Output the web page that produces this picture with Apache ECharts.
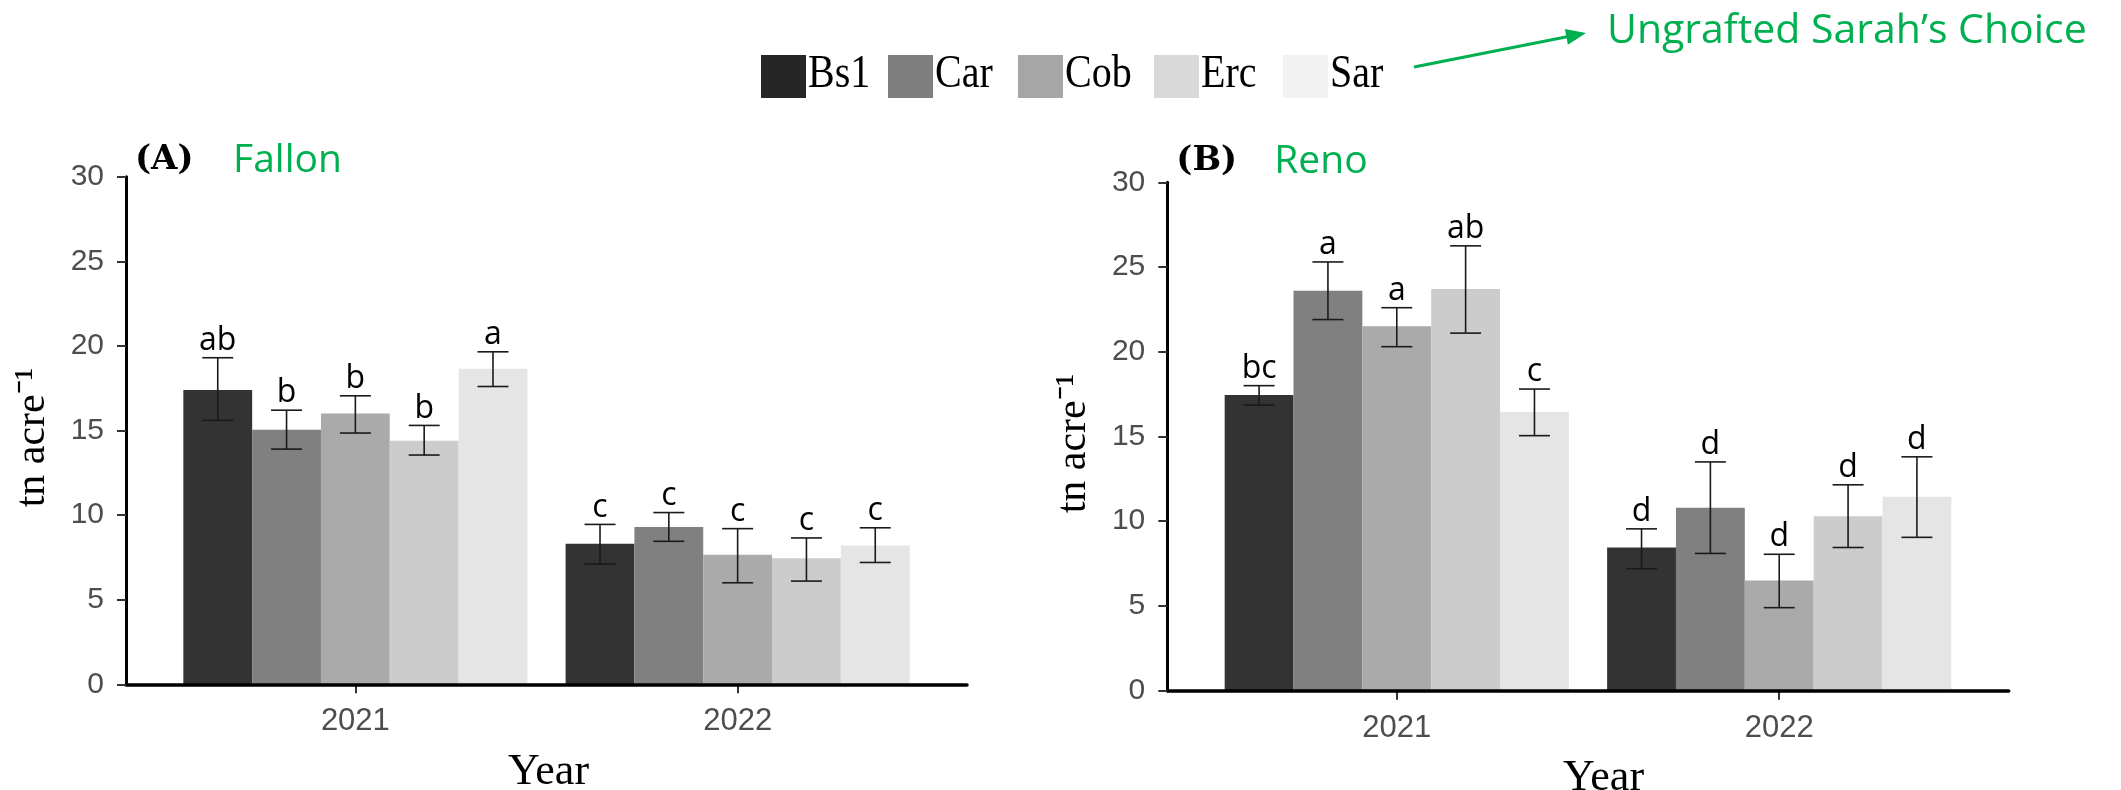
<!DOCTYPE html>
<html>
<head>
<meta charset="utf-8">
<script src="https://cdn.jsdelivr.net/npm/echarts@6/dist/echarts.min.js"></script>
<style>
html,body{margin:0;padding:0;background:#fff;}
#chart{width:2121px;height:790px;}
</style>
</head>
<body>
<div id="chart"></div>
<script>
// ---------------- data ----------------
const years = ['2021', '2022'];
const cultivars = ['Bs1', 'Car', 'Cob', 'Erc', 'Sar'];
const yTicks = [0, 5, 10, 15, 20, 25, 30];

// Fallon (A): [2021, 2022] per cultivar
const fallonMean = [[17.4, 8.3], [15.05, 9.3], [16.0, 7.65], [14.4, 7.45], [18.65, 8.2]];
const fallonLow  = [[15.6, 7.1], [13.9, 8.45], [14.85, 6.0], [13.55, 6.1], [17.6, 7.2]];
const fallonHigh = [[19.3, 9.45], [16.2, 10.15], [17.05, 9.2], [15.3, 8.65], [19.65, 9.25]];
const fallonLetters = [['ab', 'c'], ['b', 'c'], ['b', 'c'], ['b', 'c'], ['a', 'c']];

// Reno (B)
const renoMean = [[17.45, 8.45], [23.6, 10.8], [21.5, 6.5], [23.7, 10.3], [16.45, 11.45]];
const renoLow  = [[16.85, 7.2], [21.9, 8.1], [20.3, 4.9], [21.1, 8.45], [15.05, 9.05]];
const renoHigh = [[18.0, 9.55], [25.3, 13.5], [22.6, 8.05], [26.25, 12.15], [17.8, 13.8]];
const renoLetters = [['bc', 'd'], ['a', 'd'], ['a', 'd'], ['ab', 'd'], ['c', 'd']];

const barColors = ['#333333', '#808080', '#aaaaaa', '#cccccc', '#e5e5e5'];
const legendColors = ['#262626', '#7f7f7f', '#a6a6a6', '#d9d9d9', '#f2f2f2'];

// ---------------- layout ----------------
const panels = [
  { left: 126, top: 176.7, width: 841, height: 507.6, tag: '(A)', site: 'Fallon',
    yNameX: 33, yNameY: 437.5, yearPad: 4,
    mean: fallonMean, low: fallonLow, high: fallonHigh, letters: fallonLetters },
  { left: 1167.3, top: 182.3, width: 841.4, height: 508.4, tag: '(B)', site: 'Reno',
    yNameX: 1074, yNameY: 443.5, yearPad: 31,
    mean: renoMean, low: renoLow, high: renoHigh, letters: renoLetters }
];
const legendX = [761, 888, 1018, 1154, 1283];

const grid = [], xAxis = [], yAxis = [], series = [], graphic = [];
const axisLabelColor = '#4d4d4d';

panels.forEach((p, pi) => {
  const unit = p.width / 2.2;          // ggplot discrete expansion 0.6 per side
  const gWide = pi * 2, gBar = pi * 2 + 1;
  grid.push({ left: p.left, top: p.top, width: p.width, height: p.height,
    containLabel: false, outerBoundsMode: 'none' });
  grid.push({ left: p.left + 0.1 * unit, top: p.top, width: 2 * unit, height: p.height,
    containLabel: false, outerBoundsMode: 'none' });

  // wide grid: full axis lines + y axis
  xAxis.push({ gridIndex: gWide, type: 'value', min: 0, max: 1, z: 10,
    axisLine: { show: true, lineStyle: { color: '#000', width: 3.5 } },
    axisTick: { show: false }, axisLabel: { show: false }, splitLine: { show: false } });
  yAxis.push({ gridIndex: gWide, type: 'value', min: 0, max: 30, interval: 5, z: 10,
    axisLine: { show: true, lineStyle: { color: '#000', width: 3 } },
    axisTick: { show: true, length: 9, lineStyle: { color: '#333', width: 2 } },
    axisLabel: { fontFamily: 'Liberation Sans', fontSize: 30, color: axisLabelColor, margin: 22 },
    splitLine: { show: false } });

  // bar grid: categories
  xAxis.push({ gridIndex: gBar, type: 'category', data: years,
    name: 'Year', nameLocation: 'middle', nameGap: 66,
    nameTextStyle: { fontFamily: 'Liberation Serif', fontSize: 44, color: '#000', padding: [0, 0, 0, p.yearPad] },
    axisLine: { show: false },
    axisTick: { show: true, alignWithLabel: true, length: 9, lineStyle: { color: '#333', width: 2 } },
    axisLabel: { fontFamily: 'Liberation Sans', fontSize: 31, color: axisLabelColor, margin: 22 },
    splitLine: { show: false } });
  yAxis.push({ gridIndex: gBar, type: 'value', min: 0, max: 30, interval: 5, show: false });

  cultivars.forEach((name, ci) => {
    series.push({ type: 'bar', name: name, xAxisIndex: gBar, yAxisIndex: gBar,
      data: p.mean[ci], barGap: '0%', barCategoryGap: '10%',
      itemStyle: { color: barColors[ci] }, z: 2 });
  });

  const errData = [], errLetters = [];
  years.forEach((y, yi) => {
    cultivars.forEach((name, ci) => {
      errData.push([yi, ci, p.low[ci][yi], p.high[ci][yi]]);
      errLetters.push(p.letters[ci][yi]);
    });
  });
  series.push({ type: 'custom', xAxisIndex: gBar, yAxisIndex: gBar, z: 5,
    encode: { x: 0, y: 3 }, data: errData,
    renderItem: function (params, api) {
      const c = api.value(0), s = api.value(1), lo = api.value(2), hi = api.value(3);
      const band = api.size([1, 0])[0];
      const bw = band * 0.9 / 5;
      const cx = api.coord([c, 0])[0] + (s - 2) * bw;
      const yHi = api.coord([c, hi])[1], yLo = api.coord([c, lo])[1];
      const hw = bw * 0.225;
      const ls = { stroke: '#1a1a1a', lineWidth: 1.6 };
      return { type: 'group', children: [
        { type: 'line', shape: { x1: cx, y1: yHi, x2: cx, y2: yLo }, style: ls },
        { type: 'line', shape: { x1: cx - hw, y1: yHi, x2: cx + hw, y2: yHi }, style: ls },
        { type: 'line', shape: { x1: cx - hw, y1: yLo, x2: cx + hw, y2: yLo }, style: ls },
        { type: 'text', x: cx, y: yHi - 1, style: { text: errLetters[params.dataIndex],
          fontFamily: 'Open Sans', fontSize: 32, fill: '#000',
          align: 'center', verticalAlign: 'bottom', textAlign: 'center', textVerticalAlign: 'bottom' } }
      ] };
    } });

  // y axis title (rotated)
  graphic.push({ type: 'text', x: p.yNameX, y: p.yNameY, rotation: Math.PI / 2, style: {
    text: 'tn acre\u207B\u00B9', fontFamily: 'Liberation Serif', fontSize: 42, fill: '#000',
    align: 'center', verticalAlign: 'middle', textAlign: 'center', textVerticalAlign: 'middle' } });

  // panel titles
  graphic.push({ type: 'text', x: p.left + 9, y: 160 + pi * 1, style: { text: p.tag,
    fontFamily: 'DejaVu Serif', fontWeight: 'bold', fontSize: 34, fill: '#000',
    align: 'left', verticalAlign: 'middle', textAlign: 'left', textVerticalAlign: 'middle' } });
  graphic.push({ type: 'text', x: p.left + 107, y: 161 + pi * 1, style: { text: p.site,
    fontFamily: 'Open Sans', fontSize: 39, fill: '#00b050',
    align: 'left', verticalAlign: 'middle', textAlign: 'left', textVerticalAlign: 'middle' } });
});

// legend (drawn as graphic so the serif text can be stretched like the source)
cultivars.forEach((name, i) => {
  const x = legendX[i];
  graphic.push({ type: 'rect', shape: { x: x, y: 55, width: 45, height: 43 },
    style: { fill: legendColors[i] } });
  graphic.push({ type: 'text', x: x + 47, y: 75, scaleY: 1.15, style: { text: name,
    fontFamily: 'Liberation Serif', fontSize: 40, fill: '#000',
    align: 'left', verticalAlign: 'middle', textAlign: 'left', textVerticalAlign: 'middle' } });
});

// annotation arrow + text
(function () {
  const x1 = 1414, y1 = 67, x2 = 1586, y2 = 33;
  const dx = x2 - x1, dy = y2 - y1, len = Math.hypot(dx, dy);
  const ux = dx / len, uy = dy / len, px = -uy, py = ux;
  const hl = 20, hw = 8;
  const bx = x2 - ux * hl, by = y2 - uy * hl;
  graphic.push({ type: 'line', shape: { x1: x1, y1: y1, x2: bx + ux * 2, y2: by + uy * 2 },
    style: { stroke: '#00b050', lineWidth: 3 } });
  graphic.push({ type: 'polygon', shape: { points: [[x2, y2], [bx + px * hw, by + py * hw], [bx - px * hw, by - py * hw]] },
    style: { fill: '#00b050' } });
  graphic.push({ type: 'text', x: 1607, y: 31, style: { text: 'Ungrafted Sarah\u2019s Choice',
    fontFamily: 'Open Sans', fontSize: 41, fill: '#00b050',
    align: 'left', verticalAlign: 'middle', textAlign: 'left', textVerticalAlign: 'middle' } });
})();

const chart = echarts.init(document.getElementById('chart'), null, { renderer: 'canvas', width: 2121, height: 790 });
chart.setOption({
  animation: false,
  backgroundColor: '#fff',
  grid: grid,
  xAxis: xAxis,
  yAxis: yAxis,
  series: series,
  graphic: graphic
});
</script>
</body>
</html>
